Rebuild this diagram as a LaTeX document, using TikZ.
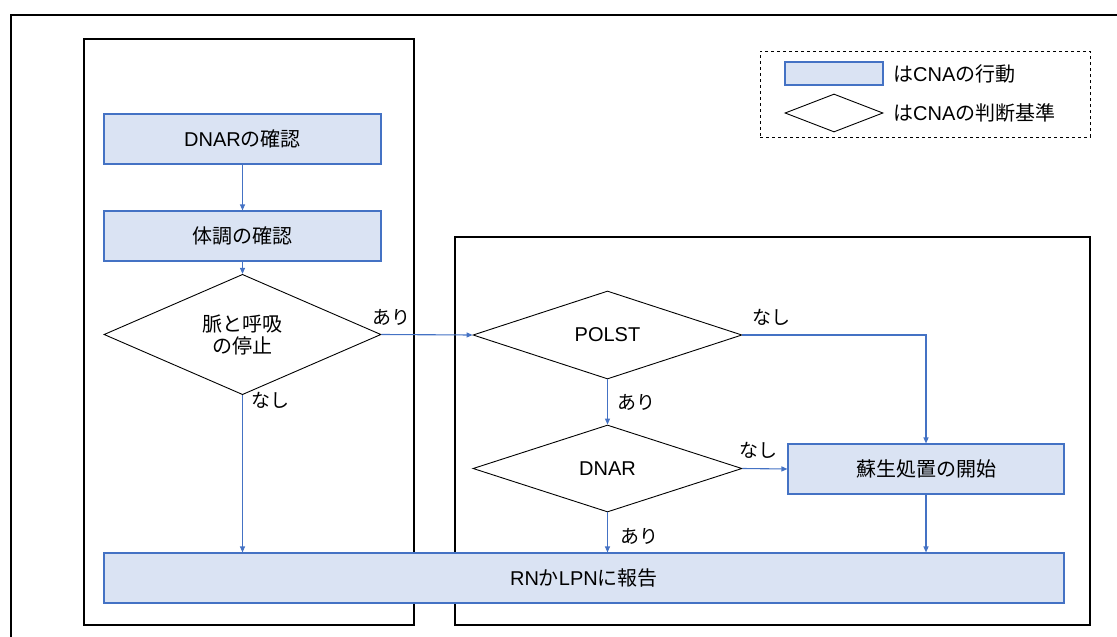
\documentclass[tikz,border=0pt]{standalone}
\usepackage{fontspec}
\setmainfont{Liberation Sans}
\newfontfamily\jp{Noto Sans CJK JP}
\usetikzlibrary{shapes.geometric,arrows.meta}
\definecolor{actfill}{HTML}{DAE3F3}
\definecolor{actline}{HTML}{4472C4}

\begin{document}
\begin{tikzpicture}[x=1pt,y=-1pt,
    action/.style={draw=actline,fill=actfill,line width=1.1pt,inner sep=0pt,minimum height=50pt,font=\fontsize{20}{22}\selectfont},
    judge/.style={diamond,draw,line width=0.9pt,inner sep=0pt,font=\fontsize{20}{22}\selectfont,align=center},
    flow/.style={draw=actline,line width=1.1pt,-{Triangle[length=6pt,width=5pt]}},
    answer/.style={font=\fontsize{19}{21}\selectfont\jp}]
        \useasboundingbox (0,0) rectangle (1117,637);
        % frames
        \draw[line width=1.6pt] (11,700) -- (11,15) -- (1200,15);
        \draw[line width=1.2pt] (84,39) rectangle (414,625);
        \draw[line width=1.2pt] (455,237) rectangle (1090,625);
        % legend
        \node[draw,dashed,line width=0.9pt,minimum width=330pt,minimum height=86pt] (legend) at (925,94) {};
        \node[action,minimum width=98pt,minimum height=23pt] (keyact) at (834,73.5) {};
        \node[judge,minimum width=98pt,minimum height=38pt] (keyjudge) at (834,113) {};
        \node[anchor=west,font=\fontsize{20}{22}\selectfont,inner sep=0pt] (keyacttext) at (893,73.5) {\jp は\fontspec{Liberation Sans}CNA\jp の行動};
        \node[anchor=west,font=\fontsize{20}{22}\selectfont,inner sep=0pt] (keyjudgetext) at (893,113) {\jp は\fontspec{Liberation Sans}CNA\jp の判断基準};
        % left side
        \node[action,minimum width=277pt] (checkdnar) at (242.5,139) {DNAR\jp の確認};
        \node[action,minimum width=277pt] (condition) at (242.5,236) {\jp 体調の確認};
        \node[judge,minimum width=277pt,minimum height=89pt,font=\fontsize{20}{22}\selectfont\jp] (arrest) at (242.5,334.5) {脈と呼吸\\の停止};
        % right side
        \node[judge,minimum width=269pt,minimum height=88pt] (polst) at (607.5,335) {POLST};
        \node[judge,minimum width=269pt,minimum height=87pt] (dnar) at (607.5,468.5) {DNAR};
        \node[action,minimum width=276pt] (cpr) at (926,469) {\jp 蘇生処置の開始};
        \node[action,minimum width=960pt] (report) at (584,578) {RN\jp か\fontspec{Liberation Sans}LPN\jp に報告};
        % connectors
        \draw[flow] (checkdnar) -- (condition);
        \draw[flow] (condition) -- (arrest);
        \draw[flow] (arrest.east) -- (polst.west);
        \draw[flow] (arrest.south) -- (arrest.south |- report.north);
        \draw[flow] (polst.south) -- (dnar.north);
        \draw[flow] (polst.east) -| (cpr.north);
        \draw[flow] (dnar.east) -- (cpr.west);
        \draw[flow] (dnar.south) -- (dnar.south |- report.north);
        \draw[flow] (cpr.south) -- (cpr.south |- report.north);
        % answers
        \node[answer] (arrestyes) at (391,317) {あり};
        \node[answer] (arrestno) at (270,400) {なし};
        \node[answer] (polstno) at (771,317) {なし};
        \node[answer] (polstyes) at (636,402) {あり};
        \node[answer] (dnarno) at (758,450) {なし};
        \node[answer] (dnaryes) at (639,536) {あり};
    \end{tikzpicture}
\end{document}
